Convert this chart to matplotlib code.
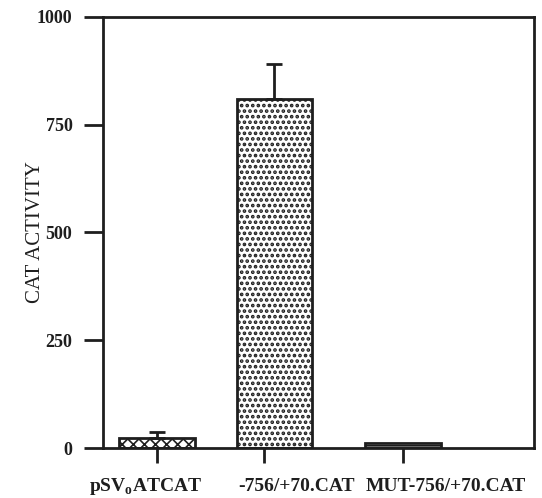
import matplotlib
matplotlib.use('Agg')
import matplotlib.pyplot as plt
import matplotlib.transforms as mtransforms

# data
labels = ['pSV$_\\mathbf{o}$ATCAT', '-756/+70.CAT', 'MUT-756/+70.CAT']
values = [23, 810, 12]
errors = [15, 81, 0]
hatches = ['xxx', '...', '--']
hatch_lw = [1.2, 1.8, 1.2]

# layout (x in arbitrary units, axis 0..10)
bar_pos = [1.25, 3.98, 6.97]
tick_pos = [1.25, 3.74, 6.97]
label_pos = [0.98, 4.5, 7.95]
bar_width = 1.76

plt.rcParams['font.family'] = ['Liberation Serif', 'DejaVu Serif']
plt.rcParams['font.weight'] = 'bold'
plt.rcParams['mathtext.fontset'] = 'custom'
plt.rcParams['mathtext.rm'] = 'Liberation Serif'
plt.rcParams['mathtext.bf'] = 'Liberation Serif:bold'
ink = '#1e1e1e'

fig = plt.figure(figsize=(5.42, 4.98), dpi=100)
ax = fig.add_axes([0.190, 0.1004, 0.795, 0.8655])

for i in range(len(values)):
    with plt.rc_context({'hatch.linewidth': hatch_lw[i]}):
        b = ax.bar(bar_pos[i], values[i], width=bar_width, color='white',
                   edgecolor=ink, linewidth=2, hatch=hatches[i], zorder=2)
        for p in b:
            if hasattr(p, 'set_hatch_linewidth'):
                p.set_hatch_linewidth(hatch_lw[i])
    if errors[i] > 0:
        ax.errorbar(bar_pos[i], values[i], yerr=[[0], [errors[i]]], fmt='none',
                    ecolor=ink, elinewidth=2, capsize=5.5, capthick=2, zorder=3)

ax.set_xlim(0, 10)
ax.set_ylim(0, 1000)
ax.set_yticks([0, 250, 500, 750, 1000])
ax.set_xticks(tick_pos)
ax.set_xticklabels([])

for s in ax.spines.values():
    s.set_linewidth(2)
    s.set_color(ink)

ax.tick_params(axis='y', direction='out', length=14, width=2, color=ink,
               labelsize=13, labelcolor=ink, pad=8)
ax.tick_params(axis='x', direction='out', length=11, width=2, color=ink)

trans = mtransforms.blended_transform_factory(ax.transData, ax.transAxes)
for i in range(len(labels)):
    ax.text(label_pos[i], -0.09, labels[i], transform=trans, ha='center',
            va='center', fontsize=14, color=ink)

ax.set_ylabel('CAT ACTIVITY', fontsize=15, color=ink)
ax.yaxis.set_label_coords(-0.135, 0.5)

fig.savefig('out.png', dpi=100, facecolor='white')
